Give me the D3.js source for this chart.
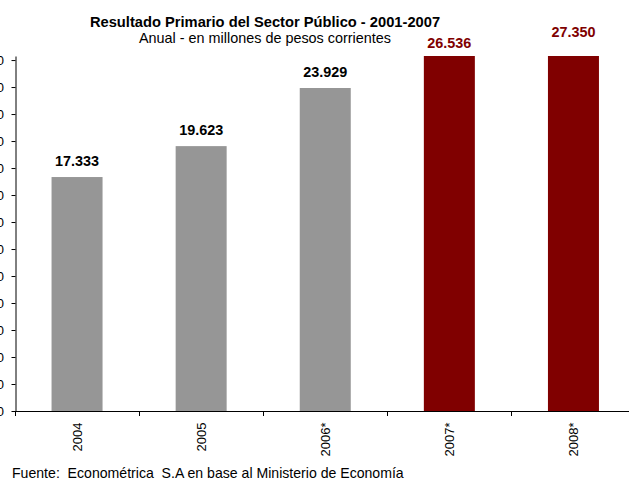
<!DOCTYPE html>
<html>
<head>
<meta charset="utf-8">
<script src="https://cdn.jsdelivr.net/npm/d3@7"></script>
<style>
  html, body { margin: 0; padding: 0; background: #fff; }
  svg { display: block; font-family: "Liberation Sans", Arial, sans-serif; }
</style>
</head>
<body>
<svg id="chart" width="629" height="479"></svg>
<script>
// ---- data ----
const categories = ["2004", "2005", "2006*", "2007*", "2008*"];
const values = [17333, 19623, 23929, 26536, 27350];
const highlighted = ["2007*", "2008*"];
const yTickValues = [0, 2000, 4000, 6000, 8000, 10000, 12000, 14000, 16000, 18000, 20000, 22000, 24000, 26000];
const yMax = 26300;
const title = "Resultado Primario del Sector Público - 2001-2007";
const subtitle = "Anual - en millones de pesos corrientes";
const source = "Fuente:  Econométrica  S.A en base al Ministerio de Economía";

(function () {
// ---- layout ----
const svg = d3.select("#chart");
const plotLeft = 15, plotTop = 56, plotBottom = 411, step = 124.1;
const plotRight = plotLeft + step * categories.length;

const locale = d3.formatLocale({ decimal: ",", thousands: ".", grouping: [3], currency: ["$", ""] });
const fmt = locale.format(",d");

const x = d3.scaleBand().domain(categories).range([plotLeft, plotRight])
  .paddingInner(0.589).paddingOuter(0.589 / 2);
const y = d3.scaleLinear().domain([0, yMax]).range([plotBottom, plotTop]);

const GRAY = "#969696", RED = "#800000";
const data = categories.map((c, i) => ({ c, v: values[i], hi: highlighted.includes(c) }));

// bars
svg.append("g").selectAll("rect").data(data).join("rect")
  .attr("x", d => x(d.c))
  .attr("width", x.bandwidth())
  .attr("y", d => y(Math.min(d.v, yMax)))
  .attr("height", d => y(0) - y(Math.min(d.v, yMax)))
  .attr("fill", d => d.hi ? RED : GRAY);

// y axis
const yAxis = d3.axisLeft(y).tickValues(yTickValues).tickFormat(fmt)
  .tickSize(4).tickSizeOuter(0).tickPadding(7.5);
const gy = svg.append("g").attr("transform", `translate(${plotLeft + 0.5},0)`).call(yAxis);
gy.selectAll("path.domain").attr("stroke", "#000");
gy.selectAll(".tick line").attr("stroke", "#000");
gy.selectAll(".tick text").attr("font-size", 13).attr("fill", "#000")
  .attr("font-family", "Liberation Sans, Arial, sans-serif");

// x axis
const xAxis = d3.axisBottom(x).tickSize(0).tickSizeOuter(0).tickPadding(0);
const gx = svg.append("g").attr("transform", `translate(0,${plotBottom + 0.5})`).call(xAxis);
gx.select("path.domain").attr("stroke", "#000").attr("d", `M${plotLeft},0H${plotRight}`);
gx.selectAll(".tick text")
  .attr("font-size", 13).attr("fill", "#000")
  .attr("font-family", "Liberation Sans, Arial, sans-serif")
  .attr("text-anchor", "end")
  .attr("transform", "translate(0,11) rotate(-90)")
  .attr("x", 0).attr("y", 0).attr("dy", "0.36em");
// category boundary ticks
const bounds = d3.range(categories.length + 1).map(i => plotLeft + i * x.step());
gx.selectAll("line.bound").data(bounds).join("line")
  .attr("class", "bound")
  .attr("x1", d => Math.round(d) + 0.5).attr("x2", d => Math.round(d) + 0.5)
  .attr("y1", 0).attr("y2", 4.5).attr("stroke", "#000");

// value labels
svg.append("g").selectAll("text").data(data).join("text")
  .attr("x", d => x(d.c) + x.bandwidth() / 2)
  .attr("y", d => d.v > yMax ? y(d.v) - 4.4 : y(d.v) - 11)
  .attr("text-anchor", "middle")
  .attr("font-size", 14.4).attr("font-weight", "bold")
  .attr("fill", d => d.hi ? RED : "#000")
  .text(d => fmt(d.v));

// titles
svg.append("text").attr("x", 265).attr("y", 27.3).attr("text-anchor", "middle")
  .attr("font-size", 14.7).attr("font-weight", "bold").attr("fill", "#000").text(title);
svg.append("text").attr("x", 265).attr("y", 43.3).attr("text-anchor", "middle")
  .attr("font-size", 14.4).attr("fill", "#000").text(subtitle);

// source
svg.append("text").attr("x", 12).attr("y", 477.5)
  .attr("xml:space", "preserve").style("white-space", "pre")
  .attr("font-size", 14.1).attr("fill", "#000").text(source);
})();
</script>
</body>
</html>
